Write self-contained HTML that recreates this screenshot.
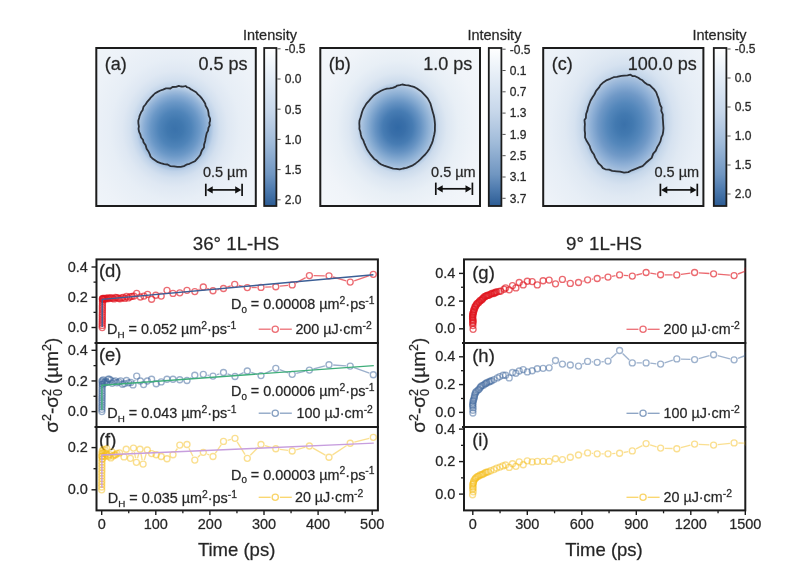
<!DOCTYPE html><html><head><meta charset="utf-8"><title>figure</title><style>html,body{margin:0;padding:0;background:#fff}svg{display:block}text{font-family:"Liberation Sans", sans-serif;stroke:#262626;stroke-width:.4px;stroke-opacity:.6}svg{filter:blur(.45px)}</style></head><body>
<svg width="799" height="582" viewBox="0 0 799 582">
<rect width="799" height="582" fill="#ffffff"/>
<defs><radialGradient id="g1" gradientUnits="userSpaceOnUse" cx="0" cy="0" r="3.43" gradientTransform="translate(175 129) rotate(3) scale(35.5 39)"><stop offset="0.0000" stop-color="#3a72ab"/><stop offset="0.0671" stop-color="#4078af"/><stop offset="0.1341" stop-color="#4f84b9"/><stop offset="0.2012" stop-color="#6b98c7"/><stop offset="0.2507" stop-color="#88acd4"/><stop offset="0.2828" stop-color="#9fbcdc"/><stop offset="0.3178" stop-color="#c0d3e9"/><stop offset="0.3673" stop-color="#d3e0ef"/><stop offset="0.4344" stop-color="#dfe8f3"/><stop offset="0.5335" stop-color="#e7eef6"/><stop offset="0.7085" stop-color="#edf2f8"/><stop offset="1.0000" stop-color="#f2f6fa"/></radialGradient></defs>
<rect x="96.3" y="48" width="159.5" height="158" fill="url(#g1)"/>
<path d="M163.0,89.6L166.0,88.4L167.9,88.4L170.4,88.5L172.5,87.0L176.1,86.9L178.8,85.9L180.9,86.5L182.9,86.7L185.8,86.0L186.8,87.2L189.5,88.0L190.5,89.2L192.2,89.9L194.4,91.2L196.1,92.2L197.9,94.4L199.9,96.1L202.2,98.9L203.5,100.8L205.3,103.8L205.5,105.5L207.1,108.2L208.0,110.1L208.5,112.8L208.7,115.4L210.1,118.5L210.1,121.0L209.4,122.9L209.7,125.3L208.4,127.8L208.1,130.6L206.7,133.1L206.0,136.3L205.5,138.6L205.2,140.9L204.1,144.4L204.0,147.5L201.9,150.4L200.5,154.4L199.1,156.5L197.5,158.4L195.0,161.2L192.6,162.3L189.4,163.8L187.2,164.3L183.9,166.1L180.8,166.8L177.4,166.8L174.0,166.4L170.2,166.1L167.6,164.5L164.2,164.1L160.7,163.1L157.9,162.2L155.4,160.5L152.4,158.4L150.6,156.7L149.8,154.4L148.5,151.5L146.6,148.7L145.6,145.1L143.5,142.3L143.0,139.8L141.1,137.5L140.2,134.1L139.1,131.9L138.5,128.8L138.9,126.3L138.4,123.6L138.3,120.7L139.2,117.8L139.6,115.8L141.1,112.3L142.6,110.2L143.6,106.6L145.5,104.5L147.4,101.6L149.8,98.9L151.0,97.3L153.4,95.0L154.8,93.5L157.6,91.9L160.4,90.5Z" fill="none" stroke="#2c3037" stroke-width="1.8" stroke-linejoin="round"/>
<rect x="96.3" y="48" width="159.5" height="158" fill="none" stroke="#1c1c1c" stroke-width="2"/>
<text x="104.8" y="70.3" font-size="18" fill="#262626">(a)</text>
<text x="247.6" y="70.3" font-size="18" fill="#262626" text-anchor="end">0.5 ps</text>
<g stroke="#111" stroke-width="1.7" fill="#111"><line x1="205.8" y1="183.7" x2="205.8" y2="196.1"/><line x1="242.1" y1="183.7" x2="242.1" y2="196.1"/><line x1="208.8" y1="189.9" x2="239.1" y2="189.9"/><path stroke="none" d="M206.5,189.9 l6.2,-3.6 v7.2z M241.4,189.9 l-6.2,-3.6 v7.2z"/></g>
<text x="225.2" y="177" font-size="14.5" fill="#262626" text-anchor="middle">0.5 µm</text>
<defs><linearGradient id="c1" x1="0" y1="0" x2="0" y2="1"><stop offset="0.00" stop-color="#ffffff"/><stop offset="0.10" stop-color="#f0f5fa"/><stop offset="0.20" stop-color="#e2ebf5"/><stop offset="0.30" stop-color="#d4e1f0"/><stop offset="0.40" stop-color="#c7d7ea"/><stop offset="0.50" stop-color="#b4c9e2"/><stop offset="0.60" stop-color="#a0bbd9"/><stop offset="0.70" stop-color="#88a8cd"/><stop offset="0.80" stop-color="#7096c1"/><stop offset="0.90" stop-color="#4c79ad"/><stop offset="1.00" stop-color="#2c5c94"/></linearGradient></defs>
<rect x="264.2" y="48" width="12.2" height="158" fill="url(#c1)" stroke="#1c1c1c" stroke-width="1.8"/>
<line x1="277.3" y1="48.8" x2="280.6" y2="48.8" stroke="#555" stroke-width="1"/>
<text x="284.8" y="53.1" font-size="12" fill="#262626">-0.5</text>
<line x1="277.3" y1="79" x2="280.6" y2="79" stroke="#555" stroke-width="1"/>
<text x="284.8" y="83.3" font-size="12" fill="#262626">0.0</text>
<line x1="277.3" y1="109.2" x2="280.6" y2="109.2" stroke="#555" stroke-width="1"/>
<text x="284.8" y="113.5" font-size="12" fill="#262626">0.5</text>
<line x1="277.3" y1="139.4" x2="280.6" y2="139.4" stroke="#555" stroke-width="1"/>
<text x="284.8" y="143.7" font-size="12" fill="#262626">1.0</text>
<line x1="277.3" y1="169.6" x2="280.6" y2="169.6" stroke="#555" stroke-width="1"/>
<text x="284.8" y="173.9" font-size="12" fill="#262626">1.5</text>
<line x1="277.3" y1="199.8" x2="280.6" y2="199.8" stroke="#555" stroke-width="1"/>
<text x="284.8" y="204.1" font-size="12" fill="#262626">2.0</text>
<text x="270" y="39.6" font-size="14.5" fill="#262626" text-anchor="middle">Intensity</text>
<defs><radialGradient id="g2" gradientUnits="userSpaceOnUse" cx="0" cy="0" r="3.2" gradientTransform="translate(397.8 127.5) rotate(0) scale(37.8 42)"><stop offset="0.0000" stop-color="#3169a5"/><stop offset="0.0625" stop-color="#396fa9"/><stop offset="0.1250" stop-color="#477cb3"/><stop offset="0.1875" stop-color="#6693c3"/><stop offset="0.2500" stop-color="#8cafd4"/><stop offset="0.2969" stop-color="#a8c2df"/><stop offset="0.3375" stop-color="#ccdbec"/><stop offset="0.4062" stop-color="#dde7f2"/><stop offset="0.5000" stop-color="#e8eff6"/><stop offset="0.6562" stop-color="#f0f4f9"/><stop offset="1.0000" stop-color="#f6f9fc"/></radialGradient></defs>
<rect x="320.3" y="48" width="159.7" height="158" fill="url(#g2)"/>
<path d="M399.9,85.1L402.2,84.5L405.5,85.1L408.3,85.4L411.1,86.2L413.9,86.9L416.6,88.2L419.2,90.1L421.7,91.8L423.6,93.8L425.5,95.9L427.7,98.3L429.2,101.1L430.5,103.7L431.2,106.3L432.0,109.2L432.9,112.4L433.6,114.8L434.3,118.0L434.7,121.2L435.0,124.5L434.9,128.0L434.9,130.9L434.3,134.5L433.5,137.6L432.8,140.7L431.9,143.4L430.6,146.2L429.3,148.9L427.2,152.0L425.2,154.5L422.7,156.9L420.6,159.2L418.2,161.4L415.6,163.4L412.8,165.3L409.6,166.6L406.5,167.8L403.0,168.5L399.7,169.4L396.4,168.8L393.2,168.6L390.1,167.6L387.0,166.6L384.1,165.6L381.3,164.5L378.7,162.7L376.7,160.6L374.2,158.9L372.3,156.6L370.2,154.1L368.6,151.7L367.0,149.2L365.6,146.2L364.3,143.1L363.3,140.2L361.7,137.7L360.8,134.5L360.4,131.8L359.4,129.0L359.5,126.4L359.3,123.4L359.5,120.6L360.4,118.0L361.2,115.2L362.0,112.3L363.1,109.3L364.8,106.4L366.4,103.6L368.9,100.8L371.0,98.3L373.3,95.8L376.0,93.8L378.5,92.2L381.1,90.8L384.0,89.5L386.9,88.7L389.8,88.4L392.7,87.9L395.3,86.9L397.2,85.6Z" fill="none" stroke="#2c3037" stroke-width="1.8" stroke-linejoin="round"/>
<rect x="320.3" y="48" width="159.7" height="158" fill="none" stroke="#1c1c1c" stroke-width="2"/>
<text x="328.8" y="70.3" font-size="18" fill="#262626">(b)</text>
<text x="472.2" y="70.3" font-size="18" fill="#262626" text-anchor="end">1.0 ps</text>
<g stroke="#111" stroke-width="1.7" fill="#111"><line x1="435.8" y1="182.6" x2="435.8" y2="195"/><line x1="472.4" y1="182.6" x2="472.4" y2="195"/><line x1="438.8" y1="188.8" x2="469.4" y2="188.8"/><path stroke="none" d="M436.5,188.8 l6.2,-3.6 v7.2z M471.7,188.8 l-6.2,-3.6 v7.2z"/></g>
<text x="453.4" y="176.6" font-size="14.5" fill="#262626" text-anchor="middle">0.5 µm</text>
<defs><linearGradient id="c2" x1="0" y1="0" x2="0" y2="1"><stop offset="0.00" stop-color="#ffffff"/><stop offset="0.10" stop-color="#f0f5fa"/><stop offset="0.20" stop-color="#e2ebf5"/><stop offset="0.30" stop-color="#d4e1f0"/><stop offset="0.40" stop-color="#c7d7ea"/><stop offset="0.50" stop-color="#b4c9e2"/><stop offset="0.60" stop-color="#a0bbd9"/><stop offset="0.70" stop-color="#88a8cd"/><stop offset="0.80" stop-color="#7096c1"/><stop offset="0.90" stop-color="#4c79ad"/><stop offset="1.00" stop-color="#2c5c94"/></linearGradient></defs>
<rect x="488.8" y="48" width="12.6" height="158" fill="url(#c2)" stroke="#1c1c1c" stroke-width="1.8"/>
<line x1="502.3" y1="49.2" x2="505.6" y2="49.2" stroke="#555" stroke-width="1"/>
<text x="509.8" y="53.5" font-size="12" fill="#262626">-0.5</text>
<line x1="502.3" y1="70.5" x2="505.6" y2="70.5" stroke="#555" stroke-width="1"/>
<text x="509.8" y="74.8" font-size="12" fill="#262626">0.1</text>
<line x1="502.3" y1="91.8" x2="505.6" y2="91.8" stroke="#555" stroke-width="1"/>
<text x="509.8" y="96.1" font-size="12" fill="#262626">0.7</text>
<line x1="502.3" y1="113.1" x2="505.6" y2="113.1" stroke="#555" stroke-width="1"/>
<text x="509.8" y="117.4" font-size="12" fill="#262626">1.3</text>
<line x1="502.3" y1="134.4" x2="505.6" y2="134.4" stroke="#555" stroke-width="1"/>
<text x="509.8" y="138.7" font-size="12" fill="#262626">1.9</text>
<line x1="502.3" y1="155.7" x2="505.6" y2="155.7" stroke="#555" stroke-width="1"/>
<text x="509.8" y="160" font-size="12" fill="#262626">2.5</text>
<line x1="502.3" y1="177" x2="505.6" y2="177" stroke="#555" stroke-width="1"/>
<text x="509.8" y="181.3" font-size="12" fill="#262626">3.1</text>
<line x1="502.3" y1="198.3" x2="505.6" y2="198.3" stroke="#555" stroke-width="1"/>
<text x="509.8" y="202.6" font-size="12" fill="#262626">3.7</text>
<text x="494.4" y="39.6" font-size="14.5" fill="#262626" text-anchor="middle">Intensity</text>
<defs><radialGradient id="g3" gradientUnits="userSpaceOnUse" cx="0" cy="0" r="3.2" gradientTransform="translate(624.2 124.5) rotate(5) scale(39.4 48.3)"><stop offset="0.0000" stop-color="#3a71aa"/><stop offset="0.0687" stop-color="#4279b0"/><stop offset="0.1375" stop-color="#5487bb"/><stop offset="0.2062" stop-color="#7099c7"/><stop offset="0.2625" stop-color="#8fb0d6"/><stop offset="0.3000" stop-color="#a5bfdd"/><stop offset="0.3375" stop-color="#c6d7ea"/><stop offset="0.3937" stop-color="#d6e2f0"/><stop offset="0.4688" stop-color="#e0e9f3"/><stop offset="0.5781" stop-color="#e7eef6"/><stop offset="0.7500" stop-color="#edf2f8"/><stop offset="1.0000" stop-color="#f2f6fa"/></radialGradient></defs>
<rect x="543.2" y="48" width="160.2" height="158" fill="url(#g3)"/>
<path d="M624.2,75.6L627.5,75.4L630.5,74.7L632.4,76.0L635.1,76.2L638.3,77.8L640.4,79.2L642.5,80.3L644.9,82.8L647.1,84.3L649.7,85.2L652.3,87.7L653.9,89.1L656.2,92.2L657.4,95.6L658.6,98.6L659.3,101.7L660.3,105.2L661.6,107.5L661.3,110.9L662.8,114.5L662.7,117.6L663.0,121.0L663.2,124.5L663.5,128.2L663.2,131.5L662.6,134.9L661.4,137.2L660.4,141.4L659.0,144.2L657.2,147.1L655.7,150.9L653.2,153.6L651.7,157.9L648.3,160.7L645.9,162.8L642.6,166.1L639.7,167.2L635.6,168.8L631.8,170.3L628.3,172.1L624.1,172.7L620.1,171.7L616.6,171.3L612.2,170.9L609.2,169.6L605.4,169.3L602.9,168.1L601.1,165.6L598.4,163.3L596.8,160.4L595.0,157.4L594.0,154.5L592.0,151.9L590.4,148.6L589.8,146.1L587.8,142.7L586.4,140.5L585.0,137.3L585.1,133.3L584.7,130.5L584.7,127.1L584.9,124.2L584.5,120.1L585.9,117.9L586.1,114.0L587.4,110.6L588.1,107.3L589.2,104.3L590.5,100.8L592.7,97.0L594.4,94.5L596.1,90.8L598.9,87.7L600.4,85.1L603.6,82.2L606.2,80.4L610.2,78.8L613.7,77.2L616.8,76.8L621.4,75.9Z" fill="none" stroke="#2c3037" stroke-width="1.8" stroke-linejoin="round"/>
<rect x="543.2" y="48" width="160.2" height="158" fill="none" stroke="#1c1c1c" stroke-width="2"/>
<text x="551.7" y="70.3" font-size="18" fill="#262626">(c)</text>
<text x="696.8" y="70.3" font-size="18" fill="#262626" text-anchor="end">100.0 ps</text>
<g stroke="#111" stroke-width="1.7" fill="#111"><line x1="660.4" y1="183.7" x2="660.4" y2="196.1"/><line x1="697.3" y1="183.7" x2="697.3" y2="196.1"/><line x1="663.4" y1="189.9" x2="694.3" y2="189.9"/><path stroke="none" d="M661.1,189.9 l6.2,-3.6 v7.2z M696.6,189.9 l-6.2,-3.6 v7.2z"/></g>
<text x="676.8" y="177.1" font-size="14.5" fill="#262626" text-anchor="middle">0.5 µm</text>
<defs><linearGradient id="c3" x1="0" y1="0" x2="0" y2="1"><stop offset="0.00" stop-color="#ffffff"/><stop offset="0.10" stop-color="#f0f5fa"/><stop offset="0.20" stop-color="#e2ebf5"/><stop offset="0.30" stop-color="#d4e1f0"/><stop offset="0.40" stop-color="#c7d7ea"/><stop offset="0.50" stop-color="#b4c9e2"/><stop offset="0.60" stop-color="#a0bbd9"/><stop offset="0.70" stop-color="#88a8cd"/><stop offset="0.80" stop-color="#7096c1"/><stop offset="0.90" stop-color="#4c79ad"/><stop offset="1.00" stop-color="#2c5c94"/></linearGradient></defs>
<rect x="713.8" y="48" width="12.6" height="158" fill="url(#c3)" stroke="#1c1c1c" stroke-width="1.8"/>
<line x1="727.3" y1="49" x2="730.6" y2="49" stroke="#555" stroke-width="1"/>
<text x="734.8" y="53.3" font-size="12" fill="#262626">-0.5</text>
<line x1="727.3" y1="78" x2="730.6" y2="78" stroke="#555" stroke-width="1"/>
<text x="734.8" y="82.3" font-size="12" fill="#262626">0.0</text>
<line x1="727.3" y1="107" x2="730.6" y2="107" stroke="#555" stroke-width="1"/>
<text x="734.8" y="111.3" font-size="12" fill="#262626">0.5</text>
<line x1="727.3" y1="136" x2="730.6" y2="136" stroke="#555" stroke-width="1"/>
<text x="734.8" y="140.3" font-size="12" fill="#262626">1.0</text>
<line x1="727.3" y1="165" x2="730.6" y2="165" stroke="#555" stroke-width="1"/>
<text x="734.8" y="169.3" font-size="12" fill="#262626">1.5</text>
<line x1="727.3" y1="194" x2="730.6" y2="194" stroke="#555" stroke-width="1"/>
<text x="734.8" y="198.3" font-size="12" fill="#262626">2.0</text>
<text x="719.5" y="39.6" font-size="14.5" fill="#262626" text-anchor="middle">Intensity</text>
<rect x="96.5" y="259.4" width="281.4" height="251" fill="none" stroke="#1c1c1c" stroke-width="2"/>
<line x1="94.5" y1="343" x2="378.9" y2="343" stroke="#1c1c1c" stroke-width="2"/>
<line x1="94.5" y1="427" x2="378.9" y2="427" stroke="#1c1c1c" stroke-width="2"/>
<line x1="101.7" y1="510.4" x2="101.7" y2="515" stroke="#1c1c1c" stroke-width="1.4"/>
<text x="101.7" y="529.1" font-size="14.5" fill="#262626" text-anchor="middle">0</text>
<line x1="128.75" y1="510.4" x2="128.75" y2="513.3" stroke="#1c1c1c" stroke-width="1.3"/>
<line x1="155.8" y1="510.4" x2="155.8" y2="515" stroke="#1c1c1c" stroke-width="1.4"/>
<text x="155.8" y="529.1" font-size="14.5" fill="#262626" text-anchor="middle">100</text>
<line x1="182.85" y1="510.4" x2="182.85" y2="513.3" stroke="#1c1c1c" stroke-width="1.3"/>
<line x1="209.9" y1="510.4" x2="209.9" y2="515" stroke="#1c1c1c" stroke-width="1.4"/>
<text x="209.9" y="529.1" font-size="14.5" fill="#262626" text-anchor="middle">200</text>
<line x1="236.95" y1="510.4" x2="236.95" y2="513.3" stroke="#1c1c1c" stroke-width="1.3"/>
<line x1="264" y1="510.4" x2="264" y2="515" stroke="#1c1c1c" stroke-width="1.4"/>
<text x="264" y="529.1" font-size="14.5" fill="#262626" text-anchor="middle">300</text>
<line x1="291.05" y1="510.4" x2="291.05" y2="513.3" stroke="#1c1c1c" stroke-width="1.3"/>
<line x1="318.1" y1="510.4" x2="318.1" y2="515" stroke="#1c1c1c" stroke-width="1.4"/>
<text x="318.1" y="529.1" font-size="14.5" fill="#262626" text-anchor="middle">400</text>
<line x1="345.15" y1="510.4" x2="345.15" y2="513.3" stroke="#1c1c1c" stroke-width="1.3"/>
<line x1="372.2" y1="510.4" x2="372.2" y2="515" stroke="#1c1c1c" stroke-width="1.4"/>
<text x="372.2" y="529.1" font-size="14.5" fill="#262626" text-anchor="middle">500</text>
<line x1="91.5" y1="327.5" x2="96.5" y2="327.5" stroke="#1c1c1c" stroke-width="1.4"/>
<text x="87.9" y="332.1" font-size="14.5" fill="#262626" text-anchor="end">0.0</text>
<line x1="91.5" y1="297.25" x2="96.5" y2="297.25" stroke="#1c1c1c" stroke-width="1.4"/>
<text x="87.9" y="301.85" font-size="14.5" fill="#262626" text-anchor="end">0.2</text>
<line x1="91.5" y1="267" x2="96.5" y2="267" stroke="#1c1c1c" stroke-width="1.4"/>
<text x="87.9" y="271.6" font-size="14.5" fill="#262626" text-anchor="end">0.4</text>
<line x1="93.5" y1="312.375" x2="96.5" y2="312.375" stroke="#1c1c1c" stroke-width="1.3"/>
<line x1="93.5" y1="282.125" x2="96.5" y2="282.125" stroke="#1c1c1c" stroke-width="1.3"/>
<line x1="91.5" y1="411.6" x2="96.5" y2="411.6" stroke="#1c1c1c" stroke-width="1.4"/>
<text x="87.9" y="416.2" font-size="14.5" fill="#262626" text-anchor="end">0.0</text>
<line x1="91.5" y1="380.95" x2="96.5" y2="380.95" stroke="#1c1c1c" stroke-width="1.4"/>
<text x="87.9" y="385.55" font-size="14.5" fill="#262626" text-anchor="end">0.2</text>
<line x1="91.5" y1="350.3" x2="96.5" y2="350.3" stroke="#1c1c1c" stroke-width="1.4"/>
<text x="87.9" y="354.9" font-size="14.5" fill="#262626" text-anchor="end">0.4</text>
<line x1="93.5" y1="396.275" x2="96.5" y2="396.275" stroke="#1c1c1c" stroke-width="1.3"/>
<line x1="93.5" y1="365.625" x2="96.5" y2="365.625" stroke="#1c1c1c" stroke-width="1.3"/>
<line x1="91.5" y1="489.8" x2="96.5" y2="489.8" stroke="#1c1c1c" stroke-width="1.4"/>
<text x="87.9" y="494.4" font-size="14.5" fill="#262626" text-anchor="end">0.0</text>
<line x1="91.5" y1="447.6" x2="96.5" y2="447.6" stroke="#1c1c1c" stroke-width="1.4"/>
<text x="87.9" y="452.2" font-size="14.5" fill="#262626" text-anchor="end">0.2</text>
<line x1="93.5" y1="468.7" x2="96.5" y2="468.7" stroke="#1c1c1c" stroke-width="1.3"/>
<text x="98.9" y="276.8" font-size="18.5" fill="#262626">(d)</text>
<text x="98.9" y="361.2" font-size="18.5" fill="#262626">(e)</text>
<text x="98.9" y="446" font-size="18.5" fill="#262626">(f)</text>
<text x="236" y="249.7" font-size="18.7" fill="#262626" text-anchor="middle">36° 1L-HS</text>
<text x="236.6" y="556" font-size="18.5" fill="#262626" text-anchor="middle">Time (ps)</text>
<text transform="translate(57.6 385.2) rotate(-90)" font-size="18.9" fill="#262626" text-anchor="middle">σ<tspan dy="-7" font-size="12.5">2</tspan><tspan dy="7">-σ</tspan><tspan dy="-7" font-size="12.5">2</tspan><tspan dy="11.5" dx="-7" font-size="12.5">0</tspan><tspan dy="-4.5"> (µm</tspan><tspan dy="-7" font-size="12.5">2</tspan><tspan dy="7">)</tspan></text>
<g stroke="#e0141e" stroke-width="1.35" fill="none" stroke-opacity="0.62"><line x1="198.5" y1="289.6" x2="199.6" y2="289.0"/><line x1="207.2" y1="288.5" x2="209.1" y2="289.2"/><line x1="217.1" y1="289.8" x2="219.4" y2="289.4"/><line x1="227.4" y1="287.0" x2="230.8" y2="285.8"/><line x1="238.8" y1="285.4" x2="243.2" y2="286.5"/><line x1="251.5" y1="287.5" x2="256.8" y2="287.5"/><line x1="265.2" y1="287.2" x2="271.6" y2="286.9"/><line x1="280.0" y1="286.2" x2="288.0" y2="285.4"/><line x1="295.9" y1="282.9" x2="305.7" y2="277.6"/><line x1="313.6" y1="275.6" x2="324.8" y2="275.8"/><line x1="333.0" y1="277.0" x2="346.2" y2="280.9"/><line x1="354.2" y1="280.8" x2="369.3" y2="275.6"/><circle cx="102.2" cy="327.6" r="3"/><circle cx="102.2" cy="325.4" r="3"/><circle cx="102.2" cy="323.2" r="3"/><circle cx="102.3" cy="321.0" r="3"/><circle cx="102.3" cy="318.9" r="3"/><circle cx="102.3" cy="316.7" r="3"/><circle cx="102.3" cy="314.5" r="3"/><circle cx="102.4" cy="312.3" r="3"/><circle cx="102.4" cy="310.1" r="3"/><circle cx="102.4" cy="307.9" r="3"/><circle cx="102.4" cy="305.8" r="3"/><circle cx="102.5" cy="303.6" r="3"/><circle cx="102.5" cy="301.4" r="3"/><circle cx="102.5" cy="299.2" r="3"/><circle cx="102.4" cy="298.9" r="3"/><circle cx="102.7" cy="298.5" r="3"/><circle cx="103.2" cy="299.4" r="3"/><circle cx="103.8" cy="298.3" r="3"/><circle cx="104.5" cy="299.1" r="3"/><circle cx="105.2" cy="298.7" r="3"/><circle cx="106.1" cy="298.1" r="3"/><circle cx="107.0" cy="298.8" r="3"/><circle cx="108.0" cy="297.9" r="3"/><circle cx="109.1" cy="298.6" r="3"/><circle cx="110.2" cy="297.8" r="3"/><circle cx="111.4" cy="297.8" r="3"/><circle cx="112.7" cy="298.3" r="3"/><circle cx="114.0" cy="298.9" r="3"/><circle cx="115.4" cy="297.5" r="3"/><circle cx="116.8" cy="297.6" r="3"/><circle cx="118.3" cy="298.2" r="3"/><circle cx="119.9" cy="298.7" r="3"/><circle cx="121.5" cy="297.9" r="3"/><circle cx="123.1" cy="297.4" r="3"/><circle cx="124.8" cy="298.4" r="3"/><circle cx="126.5" cy="296.5" r="3"/><circle cx="128.3" cy="297.9" r="3"/><circle cx="130.2" cy="296.7" r="3"/><circle cx="132.1" cy="296.3" r="3"/><circle cx="134.0" cy="296.1" r="3"/><circle cx="136.7" cy="293.4" r="3"/><circle cx="140.4" cy="297.0" r="3"/><circle cx="144.0" cy="296.1" r="3"/><circle cx="147.6" cy="294.3" r="3"/><circle cx="151.6" cy="299.2" r="3"/><circle cx="155.8" cy="295.2" r="3"/><circle cx="161.2" cy="296.1" r="3"/><circle cx="167.0" cy="290.3" r="3"/><circle cx="173.0" cy="293.4" r="3"/><circle cx="179.8" cy="292.8" r="3"/><circle cx="187.0" cy="290.3" r="3"/><circle cx="194.8" cy="291.6" r="3"/><circle cx="203.3" cy="287.0" r="3"/><circle cx="213.0" cy="290.7" r="3"/><circle cx="223.5" cy="288.5" r="3"/><circle cx="234.7" cy="284.3" r="3"/><circle cx="247.3" cy="287.6" r="3"/><circle cx="261.0" cy="287.4" r="3"/><circle cx="275.8" cy="286.7" r="3"/><circle cx="292.2" cy="284.9" r="3"/><circle cx="309.4" cy="275.6" r="3"/><circle cx="329.0" cy="275.8" r="3"/><circle cx="350.2" cy="282.1" r="3"/><circle cx="373.3" cy="274.3" r="3"/></g>
<polyline points="102.2,327 102.2,299.4 373.4,274.7" fill="none" stroke="#3b5f96" stroke-width="1.4" stroke-linejoin="round"/>
<g stroke="#3d659b" stroke-width="1.35" fill="none" stroke-opacity="0.52"><line x1="134.6" y1="381.0" x2="135.1" y2="380.0"/><line x1="190.5" y1="378.1" x2="191.3" y2="377.6"/><line x1="207.4" y1="375.1" x2="208.9" y2="375.3"/><line x1="217.0" y1="374.7" x2="219.5" y2="373.9"/><line x1="227.5" y1="373.9" x2="231.0" y2="375.1"/><line x1="238.8" y1="374.8" x2="243.5" y2="372.7"/><line x1="251.3" y1="372.3" x2="257.0" y2="374.3"/><line x1="264.8" y1="373.7" x2="272.0" y2="370.2"/><line x1="279.7" y1="369.7" x2="288.3" y2="372.9"/><line x1="296.3" y1="373.3" x2="305.3" y2="371.1"/><line x1="313.4" y1="369.0" x2="325.0" y2="365.8"/><line x1="333.2" y1="365.0" x2="346.0" y2="365.8"/><line x1="354.1" y1="367.6" x2="369.4" y2="373.2"/><circle cx="101.9" cy="411.6" r="3"/><circle cx="101.9" cy="409.3" r="3"/><circle cx="101.9" cy="407.0" r="3"/><circle cx="102.0" cy="404.8" r="3"/><circle cx="102.0" cy="402.5" r="3"/><circle cx="102.0" cy="400.2" r="3"/><circle cx="102.0" cy="397.9" r="3"/><circle cx="102.1" cy="395.7" r="3"/><circle cx="102.1" cy="393.4" r="3"/><circle cx="102.1" cy="391.1" r="3"/><circle cx="102.1" cy="388.8" r="3"/><circle cx="102.2" cy="386.6" r="3"/><circle cx="102.2" cy="384.3" r="3"/><circle cx="102.2" cy="382.0" r="3"/><circle cx="102.1" cy="380.7" r="3"/><circle cx="102.6" cy="384.2" r="3"/><circle cx="103.2" cy="379.8" r="3"/><circle cx="103.9" cy="382.6" r="3"/><circle cx="104.8" cy="383.0" r="3"/><circle cx="105.8" cy="381.2" r="3"/><circle cx="106.9" cy="382.4" r="3"/><circle cx="108.1" cy="379.1" r="3"/><circle cx="109.3" cy="379.1" r="3"/><circle cx="110.7" cy="380.1" r="3"/><circle cx="112.2" cy="383.3" r="3"/><circle cx="113.7" cy="381.6" r="3"/><circle cx="115.3" cy="380.9" r="3"/><circle cx="117.0" cy="382.7" r="3"/><circle cx="118.8" cy="381.8" r="3"/><circle cx="120.6" cy="380.8" r="3"/><circle cx="122.5" cy="384.2" r="3"/><circle cx="124.5" cy="383.6" r="3"/><circle cx="126.5" cy="380.5" r="3"/><circle cx="128.6" cy="382.8" r="3"/><circle cx="130.8" cy="382.4" r="3"/><circle cx="133.0" cy="384.9" r="3"/><circle cx="136.7" cy="376.1" r="3"/><circle cx="140.4" cy="381.0" r="3"/><circle cx="143.6" cy="384.6" r="3"/><circle cx="147.3" cy="381.0" r="3"/><circle cx="151.6" cy="379.2" r="3"/><circle cx="156.2" cy="383.7" r="3"/><circle cx="161.2" cy="381.9" r="3"/><circle cx="167.0" cy="379.2" r="3"/><circle cx="173.0" cy="379.2" r="3"/><circle cx="179.8" cy="379.7" r="3"/><circle cx="187.0" cy="380.5" r="3"/><circle cx="194.8" cy="375.2" r="3"/><circle cx="203.3" cy="374.3" r="3"/><circle cx="213.0" cy="376.1" r="3"/><circle cx="223.5" cy="372.5" r="3"/><circle cx="235.0" cy="376.5" r="3"/><circle cx="247.3" cy="371.0" r="3"/><circle cx="261.0" cy="375.6" r="3"/><circle cx="275.8" cy="368.3" r="3"/><circle cx="292.2" cy="374.3" r="3"/><circle cx="309.4" cy="370.1" r="3"/><circle cx="329.0" cy="364.7" r="3"/><circle cx="350.2" cy="366.1" r="3"/><circle cx="373.3" cy="374.7" r="3"/></g>
<polyline points="101.9,410 101.9,385.2 373.8,365.6" fill="none" stroke="#3fae7a" stroke-width="1.4" stroke-linejoin="round"/>
<g stroke="#f5b90c" stroke-width="1.35" fill="none" stroke-opacity="0.46"><line x1="102.8" y1="454.6" x2="102.9" y2="453.5"/><line x1="128.0" y1="453.0" x2="128.6" y2="454.5"/><line x1="131.6" y1="454.3" x2="132.3" y2="452.1"/><line x1="134.3" y1="452.2" x2="135.6" y2="458.2"/><line x1="137.5" y1="458.3" x2="138.9" y2="453.2"/><line x1="140.9" y1="453.3" x2="142.2" y2="460.0"/><line x1="144.3" y1="460.1" x2="146.1" y2="454.0"/><line x1="175.4" y1="451.3" x2="177.4" y2="448.5"/><line x1="188.9" y1="448.3" x2="192.9" y2="456.3"/><line x1="197.9" y1="457.3" x2="200.2" y2="455.1"/><line x1="207.2" y1="454.0" x2="209.1" y2="454.8"/><line x1="215.4" y1="453.1" x2="221.1" y2="444.8"/><line x1="227.6" y1="440.3" x2="230.9" y2="439.4"/><line x1="237.2" y1="441.9" x2="245.1" y2="454.7"/><line x1="250.3" y1="455.3" x2="258.0" y2="447.5"/><line x1="265.0" y1="445.6" x2="271.8" y2="447.6"/><line x1="280.0" y1="449.3" x2="288.0" y2="450.4"/><line x1="296.2" y1="449.8" x2="305.4" y2="447.2"/><line x1="313.0" y1="448.1" x2="325.4" y2="455.1"/><line x1="332.5" y1="454.9" x2="346.7" y2="445.5"/><line x1="354.3" y1="442.2" x2="369.2" y2="438.3"/><circle cx="101.7" cy="489.8" r="3"/><circle cx="101.7" cy="487.0" r="3"/><circle cx="101.7" cy="484.2" r="3"/><circle cx="101.8" cy="481.4" r="3"/><circle cx="101.8" cy="478.6" r="3"/><circle cx="101.8" cy="475.8" r="3"/><circle cx="101.8" cy="473.0" r="3"/><circle cx="101.9" cy="470.3" r="3"/><circle cx="101.9" cy="467.5" r="3"/><circle cx="101.9" cy="464.7" r="3"/><circle cx="101.9" cy="461.9" r="3"/><circle cx="102.0" cy="459.1" r="3"/><circle cx="102.0" cy="456.3" r="3"/><circle cx="102.0" cy="453.5" r="3"/><circle cx="101.9" cy="456.0" r="3"/><circle cx="102.2" cy="451.2" r="3"/><circle cx="102.6" cy="458.8" r="3"/><circle cx="103.1" cy="449.3" r="3"/><circle cx="103.7" cy="452.7" r="3"/><circle cx="104.3" cy="456.4" r="3"/><circle cx="105.1" cy="449.8" r="3"/><circle cx="105.9" cy="453.5" r="3"/><circle cx="106.7" cy="448.6" r="3"/><circle cx="107.7" cy="455.5" r="3"/><circle cx="108.7" cy="456.6" r="3"/><circle cx="109.7" cy="454.6" r="3"/><circle cx="110.8" cy="457.9" r="3"/><circle cx="111.9" cy="451.8" r="3"/><circle cx="113.1" cy="456.0" r="3"/><circle cx="114.4" cy="455.0" r="3"/><circle cx="115.7" cy="454.8" r="3"/><circle cx="117.0" cy="453.5" r="3"/><circle cx="119.5" cy="452.9" r="3"/><circle cx="124.0" cy="456.9" r="3"/><circle cx="126.2" cy="449.2" r="3"/><circle cx="130.4" cy="458.3" r="3"/><circle cx="133.5" cy="448.1" r="3"/><circle cx="136.4" cy="462.3" r="3"/><circle cx="140.0" cy="449.2" r="3"/><circle cx="143.1" cy="464.1" r="3"/><circle cx="147.3" cy="450.0" r="3"/><circle cx="151.6" cy="453.6" r="3"/><circle cx="156.2" cy="454.7" r="3"/><circle cx="161.2" cy="456.5" r="3"/><circle cx="167.0" cy="458.7" r="3"/><circle cx="173.0" cy="454.7" r="3"/><circle cx="179.8" cy="445.1" r="3"/><circle cx="187.0" cy="444.5" r="3"/><circle cx="194.8" cy="460.1" r="3"/><circle cx="203.3" cy="452.3" r="3"/><circle cx="213.0" cy="456.5" r="3"/><circle cx="223.5" cy="441.4" r="3"/><circle cx="235.0" cy="438.3" r="3"/><circle cx="247.3" cy="458.3" r="3"/><circle cx="261.0" cy="444.5" r="3"/><circle cx="275.8" cy="448.7" r="3"/><circle cx="292.2" cy="451.0" r="3"/><circle cx="309.4" cy="446.0" r="3"/><circle cx="329.0" cy="457.2" r="3"/><circle cx="350.2" cy="443.2" r="3"/><circle cx="373.3" cy="437.3" r="3"/></g>
<polyline points="101.9,488 101.9,455 373.8,443.2" fill="none" stroke="#c79ede" stroke-width="1.35" stroke-linejoin="round"/>
<text x="231" y="309.3" font-size="14.4" fill="#262626">D<tspan dy="3.7" font-size="9.8">0</tspan><tspan dy="-3.7" font-size="1">&#8203;</tspan> = 0.00008 µm<tspan dy="-5.3" font-size="10.4">2</tspan><tspan dy="5.3" font-size="1">&#8203;</tspan>·ps<tspan dy="-5.3" font-size="10.4">-1</tspan><tspan dy="5.3" font-size="1">&#8203;</tspan></text>
<text x="107" y="334" font-size="14.4" fill="#262626">D<tspan dy="3.7" font-size="9.8">H</tspan><tspan dy="-3.7" font-size="1">&#8203;</tspan> = 0.052 µm<tspan dy="-5.3" font-size="10.4">2</tspan><tspan dy="5.3" font-size="1">&#8203;</tspan>·ps<tspan dy="-5.3" font-size="10.4">-1</tspan><tspan dy="5.3" font-size="1">&#8203;</tspan></text>
<g stroke="#e0141e" stroke-width="1.3" fill="none" stroke-opacity="0.62"><line x1="258.7" y1="329.2" x2="270.65" y2="329.2"/><line x1="279.85" y1="329.2" x2="291.8" y2="329.2"/><circle cx="275.25" cy="329.2" r="3.1"/></g>
<text x="295.4" y="333.8" font-size="14.3" fill="#262626">200 µJ·cm<tspan dy="-5.3" font-size="10.4">-2</tspan><tspan dy="5.3" font-size="1">&#8203;</tspan></text>
<text x="231" y="395.8" font-size="14.4" fill="#262626">D<tspan dy="3.7" font-size="9.8">0</tspan><tspan dy="-3.7" font-size="1">&#8203;</tspan> = 0.00006 µm<tspan dy="-5.3" font-size="10.4">2</tspan><tspan dy="5.3" font-size="1">&#8203;</tspan>·ps<tspan dy="-5.3" font-size="10.4">-1</tspan><tspan dy="5.3" font-size="1">&#8203;</tspan></text>
<text x="107.3" y="418" font-size="14.4" fill="#262626">D<tspan dy="3.7" font-size="9.8">H</tspan><tspan dy="-3.7" font-size="1">&#8203;</tspan> = 0.043 µm<tspan dy="-5.3" font-size="10.4">2</tspan><tspan dy="5.3" font-size="1">&#8203;</tspan>·ps<tspan dy="-5.3" font-size="10.4">-1</tspan><tspan dy="5.3" font-size="1">&#8203;</tspan></text>
<g stroke="#3d659b" stroke-width="1.3" fill="none" stroke-opacity="0.62"><line x1="258.7" y1="413.2" x2="270.65" y2="413.2"/><line x1="279.85" y1="413.2" x2="291.8" y2="413.2"/><circle cx="275.25" cy="413.2" r="3.1"/></g>
<text x="296.6" y="417.8" font-size="14.3" fill="#262626">100 µJ·cm<tspan dy="-5.3" font-size="10.4">-2</tspan><tspan dy="5.3" font-size="1">&#8203;</tspan></text>
<text x="231" y="479.5" font-size="14.4" fill="#262626">D<tspan dy="3.7" font-size="9.8">0</tspan><tspan dy="-3.7" font-size="1">&#8203;</tspan> = 0.00003 µm<tspan dy="-5.3" font-size="10.4">2</tspan><tspan dy="5.3" font-size="1">&#8203;</tspan>·ps<tspan dy="-5.3" font-size="10.4">-1</tspan><tspan dy="5.3" font-size="1">&#8203;</tspan></text>
<text x="107.8" y="503.4" font-size="14.4" fill="#262626">D<tspan dy="3.7" font-size="9.8">H</tspan><tspan dy="-3.7" font-size="1">&#8203;</tspan> = 0.035 µm<tspan dy="-5.3" font-size="10.4">2</tspan><tspan dy="5.3" font-size="1">&#8203;</tspan>·ps<tspan dy="-5.3" font-size="10.4">-1</tspan><tspan dy="5.3" font-size="1">&#8203;</tspan></text>
<g stroke="#f5b90c" stroke-width="1.3" fill="none" stroke-opacity="0.62"><line x1="258.7" y1="497.3" x2="270.65" y2="497.3"/><line x1="279.85" y1="497.3" x2="291.8" y2="497.3"/><circle cx="275.25" cy="497.3" r="3.1"/></g>
<text x="295" y="501.9" font-size="14.3" fill="#262626">20 µJ·cm<tspan dy="-5.3" font-size="10.4">-2</tspan><tspan dy="5.3" font-size="1">&#8203;</tspan></text>
<rect x="464" y="259.4" width="281.3" height="251" fill="none" stroke="#1c1c1c" stroke-width="2"/>
<line x1="462" y1="343" x2="746.3" y2="343" stroke="#1c1c1c" stroke-width="2"/>
<line x1="462" y1="427" x2="746.3" y2="427" stroke="#1c1c1c" stroke-width="2"/>
<line x1="472.8" y1="510.4" x2="472.8" y2="515" stroke="#1c1c1c" stroke-width="1.4"/>
<text x="472.8" y="529.1" font-size="14.5" fill="#262626" text-anchor="middle">0</text>
<line x1="500.05" y1="510.4" x2="500.05" y2="513.3" stroke="#1c1c1c" stroke-width="1.3"/>
<line x1="527.3" y1="510.4" x2="527.3" y2="515" stroke="#1c1c1c" stroke-width="1.4"/>
<text x="527.3" y="529.1" font-size="14.5" fill="#262626" text-anchor="middle">300</text>
<line x1="554.55" y1="510.4" x2="554.55" y2="513.3" stroke="#1c1c1c" stroke-width="1.3"/>
<line x1="581.8" y1="510.4" x2="581.8" y2="515" stroke="#1c1c1c" stroke-width="1.4"/>
<text x="581.8" y="529.1" font-size="14.5" fill="#262626" text-anchor="middle">600</text>
<line x1="609.05" y1="510.4" x2="609.05" y2="513.3" stroke="#1c1c1c" stroke-width="1.3"/>
<line x1="636.3" y1="510.4" x2="636.3" y2="515" stroke="#1c1c1c" stroke-width="1.4"/>
<text x="636.3" y="529.1" font-size="14.5" fill="#262626" text-anchor="middle">900</text>
<line x1="663.55" y1="510.4" x2="663.55" y2="513.3" stroke="#1c1c1c" stroke-width="1.3"/>
<line x1="690.8" y1="510.4" x2="690.8" y2="515" stroke="#1c1c1c" stroke-width="1.4"/>
<text x="690.8" y="529.1" font-size="14.5" fill="#262626" text-anchor="middle">1200</text>
<line x1="718.05" y1="510.4" x2="718.05" y2="513.3" stroke="#1c1c1c" stroke-width="1.3"/>
<line x1="745.3" y1="510.4" x2="745.3" y2="515" stroke="#1c1c1c" stroke-width="1.4"/>
<text x="745.3" y="529.1" font-size="14.5" fill="#262626" text-anchor="middle">1500</text>
<line x1="459" y1="328.8" x2="464" y2="328.8" stroke="#1c1c1c" stroke-width="1.4"/>
<text x="455.4" y="333.4" font-size="14.5" fill="#262626" text-anchor="end">0.0</text>
<line x1="459" y1="301.1" x2="464" y2="301.1" stroke="#1c1c1c" stroke-width="1.4"/>
<text x="455.4" y="305.7" font-size="14.5" fill="#262626" text-anchor="end">0.2</text>
<line x1="459" y1="273.4" x2="464" y2="273.4" stroke="#1c1c1c" stroke-width="1.4"/>
<text x="455.4" y="278" font-size="14.5" fill="#262626" text-anchor="end">0.4</text>
<line x1="461" y1="314.95" x2="464" y2="314.95" stroke="#1c1c1c" stroke-width="1.3"/>
<line x1="461" y1="287.25" x2="464" y2="287.25" stroke="#1c1c1c" stroke-width="1.3"/>
<line x1="459" y1="412.4" x2="464" y2="412.4" stroke="#1c1c1c" stroke-width="1.4"/>
<text x="455.4" y="417" font-size="14.5" fill="#262626" text-anchor="end">0.0</text>
<line x1="459" y1="384.6" x2="464" y2="384.6" stroke="#1c1c1c" stroke-width="1.4"/>
<text x="455.4" y="389.2" font-size="14.5" fill="#262626" text-anchor="end">0.2</text>
<line x1="459" y1="356.8" x2="464" y2="356.8" stroke="#1c1c1c" stroke-width="1.4"/>
<text x="455.4" y="361.4" font-size="14.5" fill="#262626" text-anchor="end">0.4</text>
<line x1="461" y1="398.5" x2="464" y2="398.5" stroke="#1c1c1c" stroke-width="1.3"/>
<line x1="461" y1="370.7" x2="464" y2="370.7" stroke="#1c1c1c" stroke-width="1.3"/>
<line x1="459" y1="494.1" x2="464" y2="494.1" stroke="#1c1c1c" stroke-width="1.4"/>
<text x="455.4" y="498.7" font-size="14.5" fill="#262626" text-anchor="end">0.0</text>
<line x1="459" y1="461.6" x2="464" y2="461.6" stroke="#1c1c1c" stroke-width="1.4"/>
<text x="455.4" y="466.2" font-size="14.5" fill="#262626" text-anchor="end">0.2</text>
<line x1="459" y1="429.1" x2="464" y2="429.1" stroke="#1c1c1c" stroke-width="1.4"/>
<text x="455.4" y="433.7" font-size="14.5" fill="#262626" text-anchor="end">0.4</text>
<line x1="461" y1="477.85" x2="464" y2="477.85" stroke="#1c1c1c" stroke-width="1.3"/>
<line x1="461" y1="445.35" x2="464" y2="445.35" stroke="#1c1c1c" stroke-width="1.3"/>
<text x="472.2" y="278.8" font-size="18.5" fill="#262626">(g)</text>
<text x="472.2" y="362.4" font-size="18.5" fill="#262626">(h)</text>
<text x="472.2" y="446.4" font-size="18.5" fill="#262626">(i)</text>
<text x="604" y="249.7" font-size="18.7" fill="#262626" text-anchor="middle">9° 1L-HS</text>
<text x="604.05" y="556" font-size="18.5" fill="#262626" text-anchor="middle">Time (ps)</text>
<text transform="translate(424.6 385.2) rotate(-90)" font-size="18.9" fill="#262626" text-anchor="middle">σ<tspan dy="-7" font-size="12.5">2</tspan><tspan dy="7">-σ</tspan><tspan dy="-7" font-size="12.5">2</tspan><tspan dy="11.5" dx="-7" font-size="12.5">0</tspan><tspan dy="-4.5"> (µm</tspan><tspan dy="-7" font-size="12.5">2</tspan><tspan dy="7">)</tspan></text>
<defs><clipPath id="rclip"><rect x="464" y="259.4" width="281.3" height="251"/></clipPath></defs>
<g clip-path="url(#rclip)">
<g stroke="#e0141e" stroke-width="1.35" fill="none" stroke-opacity="0.64"><line x1="566.1" y1="281.3" x2="566.6" y2="281.5"/><line x1="582.5" y1="281.3" x2="583.6" y2="281.0"/><line x1="591.8" y1="279.2" x2="593.0" y2="279.1"/><line x1="601.4" y1="278.0" x2="603.8" y2="277.6"/><line x1="612.1" y1="276.3" x2="615.5" y2="275.7"/><line x1="623.8" y1="275.3" x2="628.1" y2="275.7"/><line x1="636.4" y1="275.0" x2="642.0" y2="273.6"/><line x1="650.3" y1="273.1" x2="656.4" y2="274.1"/><line x1="664.8" y1="274.8" x2="672.6" y2="274.8"/><line x1="681.0" y1="274.3" x2="690.4" y2="273.1"/><line x1="698.8" y1="272.8" x2="709.4" y2="273.5"/><line x1="717.8" y1="274.2" x2="729.9" y2="275.2"/><line x1="738.0" y1="274.0" x2="744.1" y2="271.6"/><circle cx="473.1" cy="329.3" r="3"/><circle cx="472.9" cy="325.6" r="3"/><circle cx="472.6" cy="323.4" r="3"/><circle cx="473.0" cy="322.5" r="3"/><circle cx="473.1" cy="320.9" r="3"/><circle cx="472.8" cy="320.0" r="3"/><circle cx="472.6" cy="318.8" r="3"/><circle cx="472.7" cy="317.4" r="3"/><circle cx="472.6" cy="316.7" r="3"/><circle cx="472.7" cy="315.2" r="3"/><circle cx="473.0" cy="314.6" r="3"/><circle cx="472.9" cy="313.2" r="3"/><circle cx="473.4" cy="312.4" r="3"/><circle cx="473.8" cy="311.3" r="3"/><circle cx="473.8" cy="309.9" r="3"/><circle cx="474.3" cy="309.2" r="3"/><circle cx="475.1" cy="307.6" r="3"/><circle cx="475.0" cy="306.6" r="3"/><circle cx="475.6" cy="305.9" r="3"/><circle cx="476.5" cy="304.8" r="3"/><circle cx="476.7" cy="303.9" r="3"/><circle cx="477.6" cy="303.2" r="3"/><circle cx="478.8" cy="302.4" r="3"/><circle cx="479.3" cy="301.6" r="3"/><circle cx="480.2" cy="300.4" r="3"/><circle cx="481.2" cy="300.2" r="3"/><circle cx="482.1" cy="299.6" r="3"/><circle cx="482.6" cy="298.6" r="3"/><circle cx="483.3" cy="298.1" r="3"/><circle cx="484.2" cy="297.0" r="3"/><circle cx="485.2" cy="296.4" r="3"/><circle cx="486.3" cy="295.8" r="3"/><circle cx="487.1" cy="295.5" r="3"/><circle cx="488.2" cy="295.2" r="3"/><circle cx="489.1" cy="295.1" r="3"/><circle cx="490.6" cy="294.1" r="3"/><circle cx="491.4" cy="293.8" r="3"/><circle cx="492.5" cy="293.2" r="3"/><circle cx="493.9" cy="293.5" r="3"/><circle cx="494.7" cy="292.8" r="3"/><circle cx="495.5" cy="292.2" r="3"/><circle cx="496.9" cy="292.0" r="3"/><circle cx="499.0" cy="291.4" r="3"/><circle cx="500.8" cy="291.1" r="3"/><circle cx="504.1" cy="289.2" r="3"/><circle cx="505.6" cy="287.9" r="3"/><circle cx="509.2" cy="289.8" r="3"/><circle cx="512.5" cy="285.6" r="3"/><circle cx="515.9" cy="287.9" r="3"/><circle cx="519.2" cy="282.5" r="3"/><circle cx="523.2" cy="284.9" r="3"/><circle cx="527.3" cy="281.2" r="3"/><circle cx="532.2" cy="281.6" r="3"/><circle cx="537.3" cy="284.9" r="3"/><circle cx="543.1" cy="280.7" r="3"/><circle cx="549.1" cy="280.1" r="3"/><circle cx="555.5" cy="283.8" r="3"/><circle cx="562.4" cy="279.4" r="3"/><circle cx="570.3" cy="283.4" r="3"/><circle cx="578.5" cy="282.5" r="3"/><circle cx="587.6" cy="279.8" r="3"/><circle cx="597.2" cy="278.5" r="3"/><circle cx="608.0" cy="277.1" r="3"/><circle cx="619.6" cy="274.9" r="3"/><circle cx="632.3" cy="276.1" r="3"/><circle cx="646.1" cy="272.5" r="3"/><circle cx="660.6" cy="274.7" r="3"/><circle cx="676.8" cy="274.9" r="3"/><circle cx="694.6" cy="272.5" r="3"/><circle cx="713.6" cy="273.8" r="3"/><circle cx="734.1" cy="275.6" r="3"/><circle cx="748.0" cy="270.0" r="3"/></g>
<g stroke="#3d659b" stroke-width="1.35" fill="none" stroke-opacity="0.5"><line x1="551.9" y1="364.6" x2="552.7" y2="363.7"/><line x1="582.2" y1="364.2" x2="583.9" y2="363.4"/><line x1="591.8" y1="361.8" x2="593.0" y2="361.9"/><line x1="601.4" y1="361.9" x2="603.8" y2="361.6"/><line x1="611.1" y1="358.3" x2="616.5" y2="353.3"/><line x1="622.6" y1="353.4" x2="629.3" y2="360.0"/><line x1="636.5" y1="362.9" x2="641.9" y2="362.9"/><line x1="650.3" y1="363.2" x2="656.4" y2="363.8"/><line x1="664.6" y1="362.8" x2="672.8" y2="360.2"/><line x1="681.0" y1="359.1" x2="690.4" y2="359.4"/><line x1="698.7" y1="358.6" x2="709.5" y2="355.7"/><line x1="717.7" y1="355.7" x2="730.0" y2="358.8"/><line x1="738.0" y1="358.3" x2="744.1" y2="356.0"/><circle cx="472.9" cy="413.0" r="3"/><circle cx="472.9" cy="410.2" r="3"/><circle cx="473.1" cy="407.8" r="3"/><circle cx="472.7" cy="406.0" r="3"/><circle cx="472.7" cy="404.7" r="3"/><circle cx="473.0" cy="403.2" r="3"/><circle cx="473.0" cy="401.2" r="3"/><circle cx="473.5" cy="400.2" r="3"/><circle cx="474.0" cy="398.6" r="3"/><circle cx="474.4" cy="397.1" r="3"/><circle cx="474.5" cy="395.5" r="3"/><circle cx="475.2" cy="393.7" r="3"/><circle cx="475.5" cy="392.4" r="3"/><circle cx="476.5" cy="391.4" r="3"/><circle cx="478.0" cy="390.1" r="3"/><circle cx="479.0" cy="389.3" r="3"/><circle cx="480.1" cy="387.7" r="3"/><circle cx="480.8" cy="386.6" r="3"/><circle cx="481.9" cy="385.6" r="3"/><circle cx="483.4" cy="385.2" r="3"/><circle cx="484.9" cy="384.0" r="3"/><circle cx="486.1" cy="383.4" r="3"/><circle cx="487.0" cy="382.5" r="3"/><circle cx="489.0" cy="382.0" r="3"/><circle cx="490.3" cy="381.2" r="3"/><circle cx="491.7" cy="380.7" r="3"/><circle cx="494.0" cy="379.6" r="3"/><circle cx="497.3" cy="377.9" r="3"/><circle cx="499.7" cy="376.6" r="3"/><circle cx="503.1" cy="375.2" r="3"/><circle cx="505.6" cy="375.2" r="3"/><circle cx="509.2" cy="377.9" r="3"/><circle cx="512.5" cy="372.5" r="3"/><circle cx="515.9" cy="373.2" r="3"/><circle cx="519.2" cy="371.0" r="3"/><circle cx="523.2" cy="369.6" r="3"/><circle cx="527.3" cy="371.9" r="3"/><circle cx="532.2" cy="370.7" r="3"/><circle cx="537.3" cy="368.7" r="3"/><circle cx="543.1" cy="368.3" r="3"/><circle cx="549.1" cy="367.8" r="3"/><circle cx="555.5" cy="360.5" r="3"/><circle cx="562.4" cy="364.1" r="3"/><circle cx="570.3" cy="365.0" r="3"/><circle cx="578.5" cy="366.1" r="3"/><circle cx="587.6" cy="361.4" r="3"/><circle cx="597.2" cy="362.3" r="3"/><circle cx="608.0" cy="361.1" r="3"/><circle cx="619.6" cy="350.5" r="3"/><circle cx="632.3" cy="362.9" r="3"/><circle cx="646.1" cy="362.9" r="3"/><circle cx="660.6" cy="364.1" r="3"/><circle cx="676.8" cy="358.9" r="3"/><circle cx="694.6" cy="359.6" r="3"/><circle cx="713.6" cy="354.7" r="3"/><circle cx="734.1" cy="359.8" r="3"/><circle cx="748.0" cy="354.5" r="3"/></g>
<g stroke="#f5b90c" stroke-width="1.35" fill="none" stroke-opacity="0.46"><line x1="582.6" y1="454.1" x2="583.5" y2="453.8"/><line x1="591.8" y1="453.3" x2="593.0" y2="453.4"/><line x1="601.4" y1="453.8" x2="603.8" y2="453.8"/><line x1="612.2" y1="453.6" x2="615.4" y2="453.4"/><line x1="623.7" y1="452.5" x2="628.2" y2="451.6"/><line x1="636.0" y1="448.9" x2="642.4" y2="445.6"/><line x1="650.1" y1="444.8" x2="656.6" y2="446.9"/><line x1="664.8" y1="448.3" x2="672.6" y2="448.5"/><line x1="680.9" y1="447.6" x2="690.5" y2="445.2"/><line x1="698.8" y1="444.3" x2="709.4" y2="444.9"/><line x1="717.8" y1="444.7" x2="729.9" y2="443.3"/><line x1="738.3" y1="443.0" x2="743.8" y2="443.1"/><circle cx="472.6" cy="494.7" r="3"/><circle cx="473.2" cy="491.7" r="3"/><circle cx="472.6" cy="489.5" r="3"/><circle cx="473.2" cy="487.9" r="3"/><circle cx="472.8" cy="486.4" r="3"/><circle cx="472.6" cy="484.6" r="3"/><circle cx="473.4" cy="483.6" r="3"/><circle cx="473.4" cy="482.4" r="3"/><circle cx="473.7" cy="480.9" r="3"/><circle cx="474.8" cy="479.3" r="3"/><circle cx="475.4" cy="478.3" r="3"/><circle cx="476.3" cy="477.4" r="3"/><circle cx="477.6" cy="476.5" r="3"/><circle cx="478.7" cy="476.1" r="3"/><circle cx="480.1" cy="475.0" r="3"/><circle cx="481.6" cy="474.7" r="3"/><circle cx="482.8" cy="474.2" r="3"/><circle cx="484.2" cy="473.4" r="3"/><circle cx="485.6" cy="472.5" r="3"/><circle cx="486.9" cy="472.1" r="3"/><circle cx="488.3" cy="471.8" r="3"/><circle cx="490.7" cy="470.7" r="3"/><circle cx="494.0" cy="469.5" r="3"/><circle cx="496.7" cy="468.1" r="3"/><circle cx="499.9" cy="467.1" r="3"/><circle cx="502.8" cy="465.9" r="3"/><circle cx="505.6" cy="465.0" r="3"/><circle cx="509.2" cy="467.4" r="3"/><circle cx="512.5" cy="463.7" r="3"/><circle cx="515.9" cy="466.3" r="3"/><circle cx="519.2" cy="461.9" r="3"/><circle cx="523.2" cy="464.7" r="3"/><circle cx="527.3" cy="460.8" r="3"/><circle cx="532.2" cy="461.9" r="3"/><circle cx="537.3" cy="461.4" r="3"/><circle cx="543.1" cy="461.4" r="3"/><circle cx="549.1" cy="461.4" r="3"/><circle cx="555.5" cy="458.7" r="3"/><circle cx="562.4" cy="459.6" r="3"/><circle cx="570.3" cy="457.2" r="3"/><circle cx="578.5" cy="455.0" r="3"/><circle cx="587.6" cy="452.9" r="3"/><circle cx="597.2" cy="453.8" r="3"/><circle cx="608.0" cy="453.8" r="3"/><circle cx="619.6" cy="453.2" r="3"/><circle cx="632.3" cy="450.9" r="3"/><circle cx="646.1" cy="443.6" r="3"/><circle cx="660.6" cy="448.1" r="3"/><circle cx="676.8" cy="448.7" r="3"/><circle cx="694.6" cy="444.1" r="3"/><circle cx="713.6" cy="445.1" r="3"/><circle cx="734.1" cy="442.9" r="3"/><circle cx="748.0" cy="443.2" r="3"/></g>
</g>
<g stroke="#e0141e" stroke-width="1.3" fill="none" stroke-opacity="0.62"><line x1="626.5" y1="329.3" x2="638.45" y2="329.3"/><line x1="647.65" y1="329.3" x2="659.6" y2="329.3"/><circle cx="643.05" cy="329.3" r="3.1"/></g>
<text x="663.6" y="333.9" font-size="14.3" fill="#262626">200 µJ·cm<tspan dy="-5.3" font-size="10.4">-2</tspan><tspan dy="5.3" font-size="1">&#8203;</tspan></text>
<g stroke="#3d659b" stroke-width="1.3" fill="none" stroke-opacity="0.62"><line x1="626.5" y1="413.3" x2="638.45" y2="413.3"/><line x1="647.65" y1="413.3" x2="659.6" y2="413.3"/><circle cx="643.05" cy="413.3" r="3.1"/></g>
<text x="663.6" y="417.9" font-size="14.3" fill="#262626">100 µJ·cm<tspan dy="-5.3" font-size="10.4">-2</tspan><tspan dy="5.3" font-size="1">&#8203;</tspan></text>
<g stroke="#f5b90c" stroke-width="1.3" fill="none" stroke-opacity="0.62"><line x1="626.5" y1="497.3" x2="638.45" y2="497.3"/><line x1="647.65" y1="497.3" x2="659.6" y2="497.3"/><circle cx="643.05" cy="497.3" r="3.1"/></g>
<text x="663.6" y="501.9" font-size="14.3" fill="#262626">20 µJ·cm<tspan dy="-5.3" font-size="10.4">-2</tspan><tspan dy="5.3" font-size="1">&#8203;</tspan></text>
</svg></body></html>
